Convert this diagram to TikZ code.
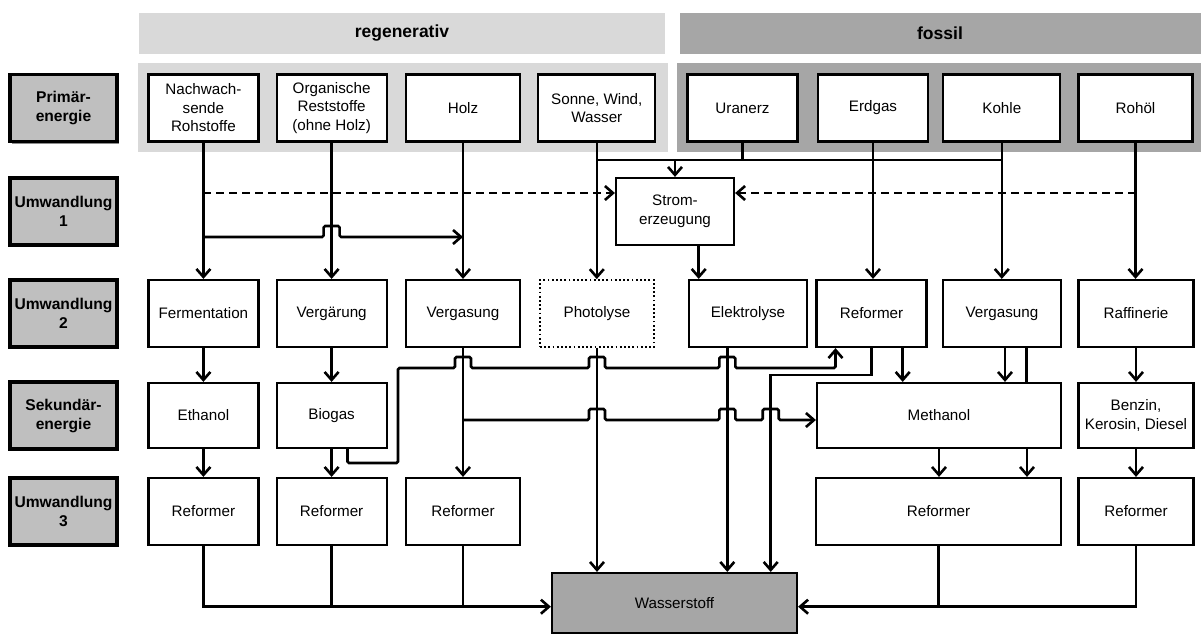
\documentclass[tikz,border=0pt]{standalone}
\usepackage{fontspec}
\setmainfont{Liberation Sans}
\usetikzlibrary{arrows.meta,calc,shadows}
\definecolor{lightband}{HTML}{D9D9D9}
\definecolor{darkband}{HTML}{A6A6A6}
\definecolor{rowgray}{HTML}{BFBFBF}
\newcommand\boxfont{\fontsize{15.2}{18.5}\selectfont}
\newcommand\lblfont{\fontsize{15.6}{19}\selectfont\bfseries}
\newcommand\hdrfont{\fontsize{17.5}{21}\selectfont\bfseries}
% a small rectangular bridge where a horizontal line jumps a vertical one
\newcommand\hopat[2]{-- ($(#1 -| #2)+(-8,0)$) -- ++(0,-11) -- ++(16,0) -- ++(0,11)}
\begin{document}
\begin{tikzpicture}[x=1pt,y=-1pt,
  box/.style={draw, line width=2.2pt, fill=white, minimum width=110pt,
    minimum height=67pt, align=center, inner sep=1pt, font=\boxfont},
  lbl/.style={draw, line width=3.4pt, fill=rowgray, minimum width=107pt,
    minimum height=67pt, align=center, inner sep=0pt, font=\lblfont,
    drop shadow={shadow xshift=2pt, shadow yshift=-2pt, fill=black, opacity=0.45}},
  band/.style={draw=white, line width=1.5pt,
    drop shadow={shadow xshift=1pt, shadow yshift=-1pt, fill=black, opacity=0.2}},
  conn/.style={line width=2.6pt},
  arr/.style={conn, -{Straight Barb[length=8pt,width=14pt]}},
  darr/.style={arr, dash pattern=on 8pt off 5pt},
  hop/.style={rounded corners=1.5pt}]

\useasboundingbox (0,0) rectangle (1201,635);
\fill[white] (0,0) rectangle (1201,635);

% header bands and background strips
\path[band, fill=lightband] (138,12) rectangle (666,55);
\path[band, fill=darkband] (679,12) rectangle (1215,55);
\node[font=\hdrfont] (hreg) at (402,33.5) {regenerativ};
\node[font=\hdrfont] (hfos) at (940,33.5) {fossil};
\fill[lightband] (138,63) rectangle (668,152);
\fill[darkband] (677,63) rectangle (1215,152);

% row labels
\node[lbl] (lP)  at (63.5,108)   {Primär-\\energie};
\node[lbl] (lU1) at (63.5,211.5) {Umwandlung\\1};
\node[lbl] (lU2) at (63.5,313.5) {Umwandlung\\2};
\node[lbl] (lS)  at (63.5,415.5) {Sekundär-\\energie};
\node[lbl] (lU3) at (63.5,511.5) {Umwandlung\\3};

% primary energy
\node[box] (nawa) at (203.4,108) {Nachwach-\\sende\\Rohstoffe};
\node[box] (org) at (331.6,108) {Organische\\Reststoffe\\(ohne Holz)};
\node[box, minimum width=114pt] (holz) at (463,108) {Holz};
\node[box, minimum width=117pt] (sonne) at (596.8,108) {Sonne, Wind,\\Wasser};
\node[box] (uran) at (742.5,108) {Uranerz};
\node[box] (erdgas) at (873,108) {Erdgas};
\node[box, minimum width=117pt] (kohle) at (1001.8,108) {Kohle};
\node[box, minimum width=114pt] (rohoel) at (1135.5,108) {Rohöl};

% conversion 1
\node[box, minimum width=118pt] (strom) at (675,211.5) {Strom-\\erzeugung};

% conversion 2
\node[box] (ferm) at (203.4,313.5) {Fermentation};
\node[box] (verg) at (331.6,313.5) {Vergärung};
\node[box, minimum width=114pt] (vgas1) at (463,313.5) {Vergasung};
\node[box, minimum width=114pt, line width=1.8pt, dash pattern=on 1.8pt off 2.4pt] (photo) at (597,313.5) {Photolyse};
\node[box, minimum width=118pt] (elek) at (748,313.5) {Elektrolyse};
\node[box] (ref1) at (871.5,313.5) {Reformer};
\node[box, minimum width=118pt] (vgas2) at (1002,313.5) {Vergasung};
\node[box, minimum width=115pt] (raff) at (1136,313.5) {Raffinerie};

% secondary energy
\node[box, minimum height=65pt] (eth) at (203.4,415.5) {Ethanol};
\node[box, minimum height=65pt] (bio) at (331.6,415.5) {Biogas};
\node[box, minimum height=65pt, minimum width=244pt] (meth) at (939,415.5) {Methanol};
\node[box, minimum height=65pt, minimum width=115pt] (benz) at (1136,415.5) {Benzin,\\Kerosin, Diesel};

% conversion 3
\node[box] (r1) at (203.4,511.5) {Reformer};
\node[box] (r2) at (331.6,511.5) {Reformer};
\node[box, minimum width=114pt] (r3) at (463,511.5) {Reformer};
\node[box, minimum width=245pt] (rbig) at (938.5,511.5) {Reformer};
\node[box, minimum width=115pt] (r8) at (1136,511.5) {Reformer};

% hydrogen
\node[box, fill=darkband, minimum width=245pt, minimum height=60pt] (wasser) at (674.5,603) {Wasserstoff};

% helper coordinates for line levels and off-centre drop lines
\coordinate (bus) at (0,160);
\coordinate (dashy) at (0,193);
\coordinate (hy) at (0,237);
\coordinate (ay) at (0,368);
\coordinate (cy) at (0,375);
\coordinate (by) at (0,420);
\coordinate (wy) at (0,606.7);
\coordinate (selx) at (698.7,0);
\coordinate (elekx) at (727.3,0);
\coordinate (cx) at (770.7,0);
\coordinate (ax) at (835.5,0);
\coordinate (bioA) at ($(bio.south)+(15.9,0)$);
\coordinate (bturn) at (398,463);
\coordinate (rm) at ($(ref1.south)+(31.2,0)$);
\coordinate (vga) at ($(vgas2.south)+(3,0)$);
\coordinate (vgb) at ($(vgas2.south)+(24.7,0)$);
\coordinate (mb) at ($(meth.south)+(88,0)$);

% primary energy to conversion
\draw[arr] (nawa.south) -- (ferm.north);
\draw[arr] (org.south) -- (verg.north);
\draw[arr] (holz.south) -- (vgas1.north);
\draw[arr] (sonne.south) -- (sonne.south |- photo.north);
\draw[conn] (sonne.south |- bus) -- (kohle.south |- bus);
\draw[conn] (uran.south) -- (uran.south |- bus);
\draw[arr] (strom.north |- bus) -- (strom.north);
\draw[arr] (erdgas.south) -- (erdgas.south |- ref1.north);
\draw[arr] (kohle.south) -- (kohle.south |- vgas2.north);
\draw[arr] (rohoel.south) -- (rohoel.south |- raff.north);
\draw[darr] (nawa.south |- dashy) -- (strom.west |- dashy);
\draw[darr] (rohoel.south |- dashy) -- (strom.east |- dashy);
\draw[arr, hop] (nawa.south |- hy) \hopat{hy}{org.south} -- (holz.south |- hy);
\draw[arr] (selx |- strom.south) -- (selx |- elek.north);

% conversion 2 to secondary energy
\draw[arr] (ferm.south) -- (eth.north);
\draw[arr] (verg.south) -- (bio.north);
\draw[arr] (raff.south) -- (raff.south |- benz.north);
\draw[arr] (rm) -- (rm |- meth.north);
\draw[arr] (vga) -- (vga |- meth.north);
\draw[conn] (vgb) -- (vgb |- meth.north);

% long drops into hydrogen
\draw[arr] (vgas1.south) -- (r3.north);
\draw[arr] (photo.south) -- (photo.south |- wasser.north);
\draw[arr] (elekx |- elek.south) -- (elekx |- wasser.north);
\draw[arr] (ref1.south) -- (ref1.south |- cy) -- (cx |- cy) -- (cx |- wasser.north);

% biogas back to the reformer
\draw[arr, hop] (bioA) -- (bioA |- bturn) -- (bturn) -- (bturn |- ay)
  \hopat{ay}{vgas1.south} \hopat{ay}{photo.south} \hopat{ay}{elekx}
  -- (ax |- ay) -- (ax |- ref1.south);

% gasification product to methanol
\draw[arr, hop] (vgas1.south |- by) \hopat{by}{photo.south} \hopat{by}{elekx}
  \hopat{by}{cx} -- (meth.west |- by);

% secondary energy to conversion 3
\draw[arr] (eth.south) -- (r1.north);
\draw[arr] (bio.south) -- (r2.north);
\draw[arr] (meth.south) -- (meth.south |- rbig.north);
\draw[arr] (mb) -- (mb |- rbig.north);
\draw[arr] (benz.south) -- (benz.south |- r8.north);

% reformers into hydrogen
\draw[conn] (r2.south) -- (r2.south |- wy);
\draw[conn] (r3.south) -- (r3.south |- wy);
\draw[arr] (r1.south) -- (r1.south |- wy) -- (wasser.west |- wy);
\draw[conn] (rbig.south) -- (rbig.south |- wy);
\draw[arr] (r8.south) -- (r8.south |- wy) -- (wasser.east |- wy);
\end{tikzpicture}
\end{document}
